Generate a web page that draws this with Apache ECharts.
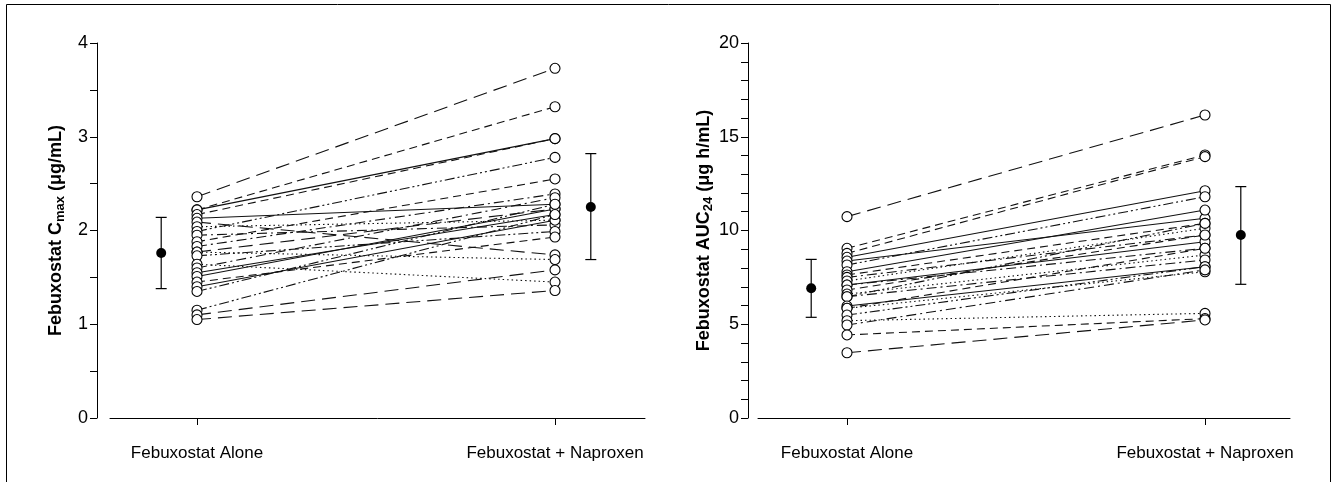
<!DOCTYPE html>
<html><head><meta charset="utf-8">
<script src="https://cdn.jsdelivr.net/npm/echarts@6/dist/echarts.min.js"></script>
<style>html,body{margin:0;padding:0;background:#fff}#c{width:1336px;height:482px}</style>
</head><body><div id="c"></div>
<script>
// ---- data ----
const categories = ['Febuxostat Alone', 'Febuxostat + Naproxen'];

const cmaxAlone    = [2.36, 2.22, 2.22, 2.17, 2.13, 2.09, 2.04, 1.99, 1.95, 1.88, 1.83, 1.77, 1.77, 1.73, 1.64, 1.60, 1.55, 1.51, 1.45, 1.40, 1.35, 1.15, 1.10, 1.05];
const cmaxNaproxen = [3.73, 3.32, 2.98, 2.98, 2.28, 1.74, 2.11, 2.78, 2.06, 2.55, 2.39, 1.69, 2.23, 1.99, 1.45, 2.35, 2.17, 2.23, 1.93, 2.11, 2.28, 2.17, 1.58, 1.36];
const cmaxMean = [1.76, 2.25];
const cmaxLow  = [1.38, 1.69];
const cmaxHigh = [2.14, 2.82];
const cmaxTicks = [0, 1, 2, 3, 4];

const aucAlone    = [10.74, 9.05, 8.78, 8.57, 8.37, 8.16, 7.80, 7.63, 7.50, 7.31, 7.09, 7.09, 6.83, 6.61, 6.47, 6.47, 5.97, 5.85, 5.85, 5.49, 5.19, 4.96, 4.43, 3.48];
const aucNaproxen = [16.16, 14.03, 13.94, 12.12, 10.65, 11.80, 11.09, 10.38, 9.76, 10.12, 9.40, 9.05, 9.76, 8.69, 10.38, 8.43, 8.07, 9.05, 7.80, 8.07, 5.58, 7.90, 5.30, 5.23];
const aucMean = [6.92, 9.76];
const aucLow  = [5.37, 7.13];
const aucHigh = [8.46, 12.34];
const aucTicks = [0, 5, 10, 15, 20];

// ---- styles ----
const PAT = {
  S: 'solid',
  LD: [14, 7],
  D: [8, 5],
  DD: [10, 4, 2, 4],
  DDD: [10, 3, 2, 3, 2, 3],
  DOT: [1.5, 3]
};
const cmaxPattern = ['LD','D','S','D','S','LD','DOT','DDD','DD','D','DD','DOT','LD','DDD','DOT','DD','S','S','D','S','DDD','DDD','LD','LD'];
const aucPattern  = ['LD','D','D','S','S','DDD','S','D','DD','DOT','S','DD','D','DOT','DDD','DD','S','D','DOT','DDD','DOT','DD','D','LD'];

const MEAN_OFFSET = 0.1;
const FONT = 'Liberation Sans, Arial, Helvetica, sans-serif';

function panel(idx, alone, nap, pattern, mean, low, high) {
  const out = [];
  alone.forEach((a, i) => {
    out.push({
      type: 'line', xAxisIndex: idx, yAxisIndex: idx,
      data: [[1, a], [2, nap[i]]],
      symbol: 'none', silent: true, animation: false, z: 2,
      lineStyle: { color: '#111', width: 1.1, type: PAT[pattern[i]] }
    });
  });
  out.push({
    type: 'scatter', xAxisIndex: idx, yAxisIndex: idx, animation: false, z: 5,
    data: alone.map(a => [1, a]).concat(nap.map(b => [2, b])),
    symbol: 'circle', symbolSize: 10,
    itemStyle: { color: '#fff', borderColor: '#000', borderWidth: 1.1, opacity: 1 }
  });
  out.push({
    type: 'custom', xAxisIndex: idx, yAxisIndex: idx, animation: false, z: 6,
    data: [[1 - MEAN_OFFSET, mean[0], low[0], high[0]], [2 + MEAN_OFFSET, mean[1], low[1], high[1]]],
    encode: { x: 0, y: [1, 2, 3] },
    renderItem: (params, api) => {
      const x = api.value(0);
      const pm = api.coord([x, api.value(1)]);
      const pl = api.coord([x, api.value(2)]);
      const ph = api.coord([x, api.value(3)]);
      const w = 5.5, st = { stroke: '#000', lineWidth: 1.2 };
      return { type: 'group', children: [
        { type: 'line', shape: { x1: pl[0], y1: pl[1], x2: ph[0], y2: ph[1] }, style: st },
        { type: 'line', shape: { x1: pl[0] - w, y1: pl[1], x2: pl[0] + w, y2: pl[1] }, style: st },
        { type: 'line', shape: { x1: ph[0] - w, y1: ph[1], x2: ph[0] + w, y2: ph[1] }, style: st },
        { type: 'circle', shape: { cx: pm[0], cy: pm[1], r: 5 }, style: { fill: '#000' } }
      ]};
    }
  });
  return out;
}

function xAxisCfg(idx, min, max) {
  return {
    type: 'value', gridIndex: idx, min: min, max: max, offset: 5,
    axisLine: { show: true, lineStyle: { color: '#000', width: 1 } },
    axisTick: { show: true, customValues: [1, 2], length: 7, lineStyle: { color: '#000' } },
    axisLabel: { customValues: [1, 2], formatter: v => categories[Math.round(v) - 1], color: '#000', fontSize: 17, margin: 22, fontFamily: FONT },
    splitLine: { show: false }
  };
}
function yAxisCfg(idx, ticks, minorSplit, offset, gap, nameParts) {
  return {
    type: 'value', gridIndex: idx, min: ticks[0], max: ticks[ticks.length - 1],
    interval: ticks[1] - ticks[0], offset: offset,
    axisLine: { show: true, lineStyle: { color: '#000', width: 1 } },
    axisTick: { show: true, length: 7, lineStyle: { color: '#000' } },
    minorTick: { show: true, splitNumber: minorSplit, length: 7, lineStyle: { color: '#000' } },
    splitLine: { show: false }, minorSplitLine: { show: false },
    axisLabel: { color: '#000', fontSize: 18, margin: 9, fontFamily: FONT },
    name: nameParts[0] + '{sub|' + nameParts[1] + '}' + nameParts[2],
    nameLocation: 'middle', nameGap: gap,
    nameTextStyle: {
      color: '#000', fontSize: 18, fontWeight: 'bold', fontFamily: FONT,
      lineHeight: 22, verticalAlign: 'bottom',
      rich: { sub: { fontSize: 13, fontWeight: 'bold', color: '#000', lineHeight: 14, verticalAlign: 'bottom', fontFamily: FONT } }
    }
  };
}

const chart = echarts.init(document.getElementById('c'), null, { renderer: 'canvas' });
chart.setOption({
  backgroundColor: '#fff',
  animation: false,
  grid: [
    { left: 110, width: 535, top: 43, bottom: 64 },
    { left: 758, width: 532, top: 43, bottom: 64 }
  ],
  xAxis: [
    xAxisCfg(0, 1 - 87 / 358, 2 + 90 / 358),
    xAxisCfg(1, 1 - 89 / 358, 2 + 85 / 358)
  ],
  yAxis: [
    yAxisCfg(0, cmaxTicks, 2, 13, 30, ['Febuxostat C', 'max', ' (μg/mL)']),
    yAxisCfg(1, aucTicks, 5, 10, 31, ['Febuxostat AUC', '24', ' (μg h/mL)'])
  ],
  graphic: [
    { type: 'rect', shape: { x: 6.5, y: 4.5, width: 1324, height: 490 }, style: { fill: 'none', stroke: '#000', lineWidth: 1 }, silent: true }
  ],
  series: [].concat(
    panel(0, cmaxAlone, cmaxNaproxen, cmaxPattern, cmaxMean, cmaxLow, cmaxHigh),
    panel(1, aucAlone, aucNaproxen, aucPattern, aucMean, aucLow, aucHigh)
  )
});
</script></body></html>
